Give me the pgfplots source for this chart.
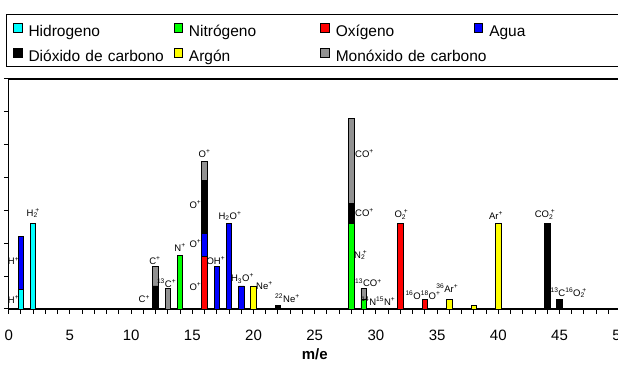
\documentclass[border=0pt]{standalone}
\usepackage{pgfplots}
\pgfplotsset{compat=1.18}
\usepackage{pgfplotstable}
\usepackage{fontspec}
\setmainfont{Liberation Sans}
\definecolor{cH}{RGB}{0,255,255}
\definecolor{cN}{RGB}{0,255,0}
\definecolor{cO}{RGB}{255,0,0}
\definecolor{cW}{RGB}{0,0,255}
\definecolor{cC}{RGB}{0,0,0}
\definecolor{cA}{RGB}{255,255,0}
\definecolor{cM}{RGB}{145,145,145}
\newcommand{\sbp}[1]{\textsubscript{#1}\kern-0.25em\textsuperscript{+}}
\pgfplotstableread{
x  H   N    O   W   C    A    M
1  0.6 0    0   1.6 0    0    0
2  2.6 0    0   0   0    0    0
12 0   0    0   0   0.7  0    0.6
13 0   0    0   0   0    0    0.62
14 0   1.63 0   0   0    0    0
16 0   0    1.6 0.7 1.6  0    0.6
17 0   0    0   1.3 0    0    0
18 0   0    0   2.6 0    0    0
19 0   0    0   0.7 0    0    0
20 0   0    0   0   0    0.7  0
22 0   0    0   0   0.11 0    0
28 0   2.6  0   0   0.6  0    2.6
29 0   0.3  0   0   0    0    0.33
32 0   0    2.6 0   0    0    0
34 0   0    0.3 0   0    0    0
36 0   0    0   0   0    0.3  0
38 0   0    0   0   0    0.11 0
40 0   0    0   0   0    2.6  0
44 0   0    0   0   2.6  0    0
45 0   0    0   0   0.3  0    0
}\data
\pgfplotsset{sq/.style={legend image code/.code={%
  \draw[fill=#1, draw=black, line width=0.8pt] (6.7pt,-4.8pt) rectangle (15.3pt,4.2pt);
  \path (0pt,0pt) (21.3pt,0pt);}}}
\tikzset{lbl/.style={font=\fontsize{9.5}{9.5}\selectfont, inner sep=0pt, text=black}}
\begin{document}
\begin{tikzpicture}
\begin{axis}[
  anchor=origin, at={(8.7pt,57pt)},
  x=12.24pt, y=32.86pt,
  xmin=0, xmax=50, ymin=0, ymax=7,
  clip=false,
  ybar stacked, bar width=0.44,
  axis line style={line width=1.6pt},
  tick align=outside, tick pos=left,
  major tick length=4.7pt, minor tick length=4.7pt,
  tick style={line width=1pt, black},
  minor tick style={line width=1pt, black},
  xtick={0,5,...,50}, minor xtick={0,1,...,50},
  ytick={0,1,...,7}, yticklabels={},
  /pgf/number format/assume math mode=true,
  xticklabel style={font=\fontsize{15}{15}\selectfont, anchor=base, yshift=-26.9pt},
  xlabel={m/e},
  xlabel style={font=\bfseries\fontsize{15}{15}\selectfont, at={(axis description cs:0.5,0)}, anchor=base, yshift=-50.5pt},
  legend columns=4, legend cell align=left,
  legend style={at={(axis description cs:-0.00441,1.2825)}, anchor=north west,
    draw=black, line width=0.9pt, inner xsep=0pt, inner ysep=1.15pt,
    column sep=0pt, row sep=0pt, font=\fontsize{15.5}{15.5}\selectfont,
    nodes={inner sep=0pt, text height=20.85pt, text depth=3.85pt}},
]
\node[lbl,anchor=east] at (axis cs:0.87,1.46) {H\textsuperscript{+}};
\node[lbl,anchor=east] at (axis cs:0.87,0.29) {H\textsuperscript{+}};
\node[lbl] at (axis cs:2.0,2.91) {H\sbp{2}};
\node[lbl] at (axis cs:11.95,1.46) {C\textsuperscript{+}};
\node[lbl] at (axis cs:11.08,0.3) {C\textsuperscript{+}};
\node[lbl] at (axis cs:12.9,0.78) {\textsuperscript{13}C\textsuperscript{+}};
\node[lbl] at (axis cs:14.0,1.88) {N\textsuperscript{+}};
\node[lbl] at (axis cs:16.0,4.74) {O\textsuperscript{+}};
\node[lbl,anchor=east] at (axis cs:15.75,3.17) {O\textsuperscript{+}};
\node[lbl,anchor=east] at (axis cs:15.75,1.99) {O\textsuperscript{+}};
\node[lbl,anchor=east] at (axis cs:15.75,0.68) {O\textsuperscript{+}};
\node[lbl] at (axis cs:16.93,1.46) {OH\textsuperscript{+}};
\node[lbl] at (axis cs:18.08,2.83) {H\textsubscript{2}O\textsuperscript{+}};
\node[lbl] at (axis cs:19.1,0.93) {H\textsubscript{3}O\textsuperscript{+}};
\node[lbl,anchor=west] at (axis cs:20.2,0.71) {Ne\textsuperscript{+}};
\node[lbl,anchor=west] at (axis cs:21.76,0.34) {\textsuperscript{22}Ne\textsuperscript{+}};
\node[lbl,anchor=west] at (axis cs:28.29,4.74) {CO\textsuperscript{+}};
\node[lbl,anchor=west] at (axis cs:28.29,2.94) {CO\textsuperscript{+}};
\node[lbl,anchor=west] at (axis cs:28.21,1.64) {N\sbp{2}};
\node[lbl,anchor=west] at (axis cs:28.29,0.80) {\textsuperscript{13}CO\textsuperscript{+}};
\node[lbl,anchor=west] at (axis cs:28.8,0.24) {\textsuperscript{14}N\textsuperscript{15}N\textsuperscript{+}};
\node[lbl] at (axis cs:32.08,2.87) {O\sbp{2}};
\node[lbl] at (axis cs:33.85,0.43) {\textsuperscript{16}O\textsuperscript{18}O\textsuperscript{+}};
\node[lbl] at (axis cs:35.83,0.63) {\textsuperscript{36}Ar\textsuperscript{+}};
\node[lbl] at (axis cs:39.81,2.84) {Ar\textsuperscript{+}};
\node[lbl] at (axis cs:43.82,2.87) {CO\sbp{2}};
\node[lbl] at (axis cs:45.75,0.49) {\textsuperscript{13}C\textsuperscript{16}O\sbp{2}};
\addplot[fill=cH, draw=black, line width=0.8pt, sq=cH] table[x=x, y=H] {\data};
\addlegendentry[text width=138.3pt]{\mbox{Hidrogeno}}
\addplot[fill=cN, draw=black, line width=0.8pt, sq=cN] table[x=x, y=N] {\data};
\addlegendentry[text width=124.7pt]{\mbox{Nitrógeno}}
\addplot[fill=cO, draw=black, line width=0.8pt, sq=cO] table[x=x, y=O] {\data};
\addlegendentry[text width=131.4pt]{\mbox{Oxígeno}}
\addplot[fill=cW, draw=black, line width=0.8pt, sq=cW] table[x=x, y=W] {\data};
\addlegendentry[text width=150pt]{\mbox{Agua}}
\addplot[fill=cC, draw=black, line width=0.8pt, sq=cC] table[x=x, y=C] {\data};
\addlegendentry[text width=138.3pt]{\mbox{Dióxido de carbono}}
\addplot[fill=cA, draw=black, line width=0.8pt, sq=cA] table[x=x, y=A] {\data};
\addlegendentry[text width=124.7pt]{\mbox{Argón}}
\addplot[fill=cM, draw=black, line width=0.8pt, sq=cM] table[x=x, y=M] {\data};
\addlegendentry[text width=131.4pt]{\mbox{Monóxido de carbono}}
\end{axis}
\pgfresetboundingbox
\path[use as bounding box] (0pt,0pt) rectangle (618pt,366pt);
\end{tikzpicture}
\end{document}
